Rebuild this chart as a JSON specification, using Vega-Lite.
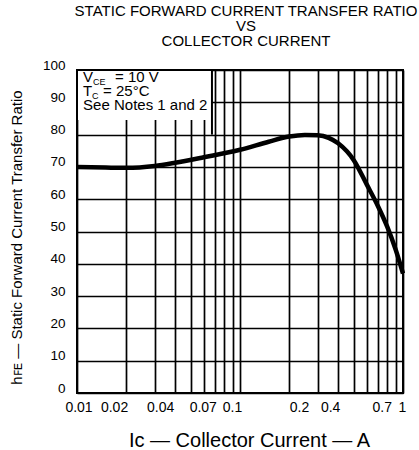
{
  "$schema": "https://vega.github.io/schema/vega-lite/v6.json",
  "width": 326,
  "height": 323,
  "autosize": {"type": "none"},
  "padding": {"left": 77, "top": 70, "right": 16, "bottom": 57},
  "background": "white",
  "config": {
    "font": "Liberation Sans",
    "view": {"stroke": "black", "strokeWidth": 2}
  },
  "title": {
    "text": ["STATIC FORWARD CURRENT TRANSFER RATIO", "VS", "COLLECTOR CURRENT"],
    "fontSize": 15,
    "fontWeight": "normal",
    "font": "Liberation Sans",
    "color": "black",
    "lineHeight": 15,
    "anchor": "middle",
    "dx": 6,
    "offset": 9
  },
  "datasets": {
    "curve": [
      {"x": 0.01, "y": 70.0},
      {"x": 0.015, "y": 69.8},
      {"x": 0.02, "y": 69.7},
      {"x": 0.03, "y": 70.3},
      {"x": 0.04, "y": 71.3},
      {"x": 0.06, "y": 73.0},
      {"x": 0.1, "y": 75.3},
      {"x": 0.15, "y": 77.8},
      {"x": 0.2, "y": 79.4},
      {"x": 0.25, "y": 79.9},
      {"x": 0.3, "y": 79.8},
      {"x": 0.35, "y": 79.0},
      {"x": 0.4, "y": 77.3},
      {"x": 0.5, "y": 72.0},
      {"x": 0.6, "y": 64.5},
      {"x": 0.7, "y": 58.0},
      {"x": 0.8, "y": 51.5},
      {"x": 0.9, "y": 44.5},
      {"x": 1.0, "y": 37.0}
    ],
    "box": [{"x": 0.01, "x2": 0.0673, "y": 84.5, "y2": 100}],
    "border": [
      {"x": 0.01, "x2": 0.0673, "y": 100, "y2": 100},
      {"x": 0.0673, "x2": 0.0673, "y": 80, "y2": 100},
      {"x": 0.01, "x2": 0.01, "y": 80, "y2": 100}
    ],
    "notes": [
      {"x": 0.0109, "y": 96.3, "label": "V"},
      {"x": 0.0171, "y": 96.3, "label": "= 10 V"},
      {"x": 0.0109, "y": 92.0, "label": "T"},
      {"x": 0.01445, "y": 92.0, "label": "= 25°C"},
      {"x": 0.0109, "y": 87.6, "label": "See Notes 1 and 2"}
    ],
    "subs": [
      {"x": 0.01255, "y": 95.4, "label": "CE"},
      {"x": 0.01235, "y": 91.1, "label": "C"}
    ]
  },
  "encoding": {
    "y": {
      "field": "y",
      "type": "quantitative",
      "scale": {"domain": [0, 100], "nice": false},
      "axis": {
        "values": [0, 10, 20, 30, 40, 50, 60, 70, 80, 90, 100],
        "tickCount": 11,
        "labelOverlap": false,
        "grid": true,
        "gridColor": "black",
        "gridWidth": 1.7,
        "gridOpacity": 1,
        "ticks": false,
        "domain": false,
        "labelPadding": 12,
        "labelFontSize": 13.5,
        "labelColor": "black",
        "labelOffset": -5,
        "title": "hꜰᴇ — Static Forward Current Transfer Ratio",
        "titleFontSize": 15,
        "titleFontWeight": "normal",
        "titleColor": "black",
        "titleY": 167,
        "titlePadding": 18
      }
    }
  },
  "layer": [
    {
      "data": {"name": "box"},
      "mark": {"type": "rect", "fill": "white", "stroke": null},
      "encoding": {
        "x": {
          "field": "x",
          "type": "quantitative",
          "scale": {"type": "log", "domain": [0.01, 1]},
          "axis": {
            "values": [0.01, 0.02, 0.03, 0.04, 0.05, 0.06, 0.07, 0.08, 0.09, 0.1, 0.2, 0.3, 0.4, 0.5, 0.6, 0.7, 0.8, 0.9, 1],
            "format": ".2~f",
            "labelExpr": "indexof([0.01, 0.02, 0.04, 0.07, 0.1, 0.2, 0.4, 0.7, 1], datum.value) >= 0 ? datum.label : ''",
            "labelOffset": {
              "condition": [
                {"test": "datum.value == 0.01", "value": 1.5},
                {"test": "datum.value == 0.02", "value": -12},
                {"test": "datum.value == 0.04", "value": -15},
                {"test": "datum.value == 0.07", "value": -12},
                {"test": "datum.value == 0.1", "value": -8},
                {"test": "datum.value == 0.2", "value": 10},
                {"test": "datum.value == 0.4", "value": -8},
                {"test": "datum.value == 0.7", "value": 4}
              ],
              "value": -1
            },
            "labelOverlap": false,
            "labelFlush": false,
            "grid": true,
            "gridColor": "black",
            "gridWidth": 1.7,
            "gridOpacity": 1,
            "ticks": false,
            "domain": false,
            "labelPadding": 7,
            "labelFontSize": 14,
            "labelColor": "black",
            "title": "Iᴄ — Collector Current — A",
            "titleFontSize": 20,
            "titleFontWeight": "normal",
            "titleColor": "black",
            "titleX": 172,
            "titlePadding": 16
          }
        },
        "x2": {"field": "x2"},
        "y2": {"field": "y2"}
      }
    },
    {
      "data": {"name": "border"},
      "mark": {"type": "rule", "color": "black", "strokeWidth": 2},
      "encoding": {
        "x": {"field": "x", "type": "quantitative"},
        "x2": {"field": "x2"},
        "y2": {"field": "y2"}
      }
    },
    {
      "data": {"name": "curve"},
      "mark": {"type": "line", "color": "black", "strokeWidth": 4.5, "interpolate": "monotone"},
      "encoding": {
        "x": {"field": "x", "type": "quantitative"}
      }
    },
    {
      "data": {"name": "notes"},
      "mark": {"type": "text", "align": "left", "baseline": "alphabetic", "fontSize": 15, "color": "black"},
      "encoding": {
        "x": {"field": "x", "type": "quantitative"},
        "text": {"field": "label"}
      }
    },
    {
      "data": {"name": "subs"},
      "mark": {"type": "text", "align": "left", "baseline": "alphabetic", "fontSize": 9, "color": "black"},
      "encoding": {
        "x": {"field": "x", "type": "quantitative"},
        "text": {"field": "label"}
      }
    }
  ]
}
